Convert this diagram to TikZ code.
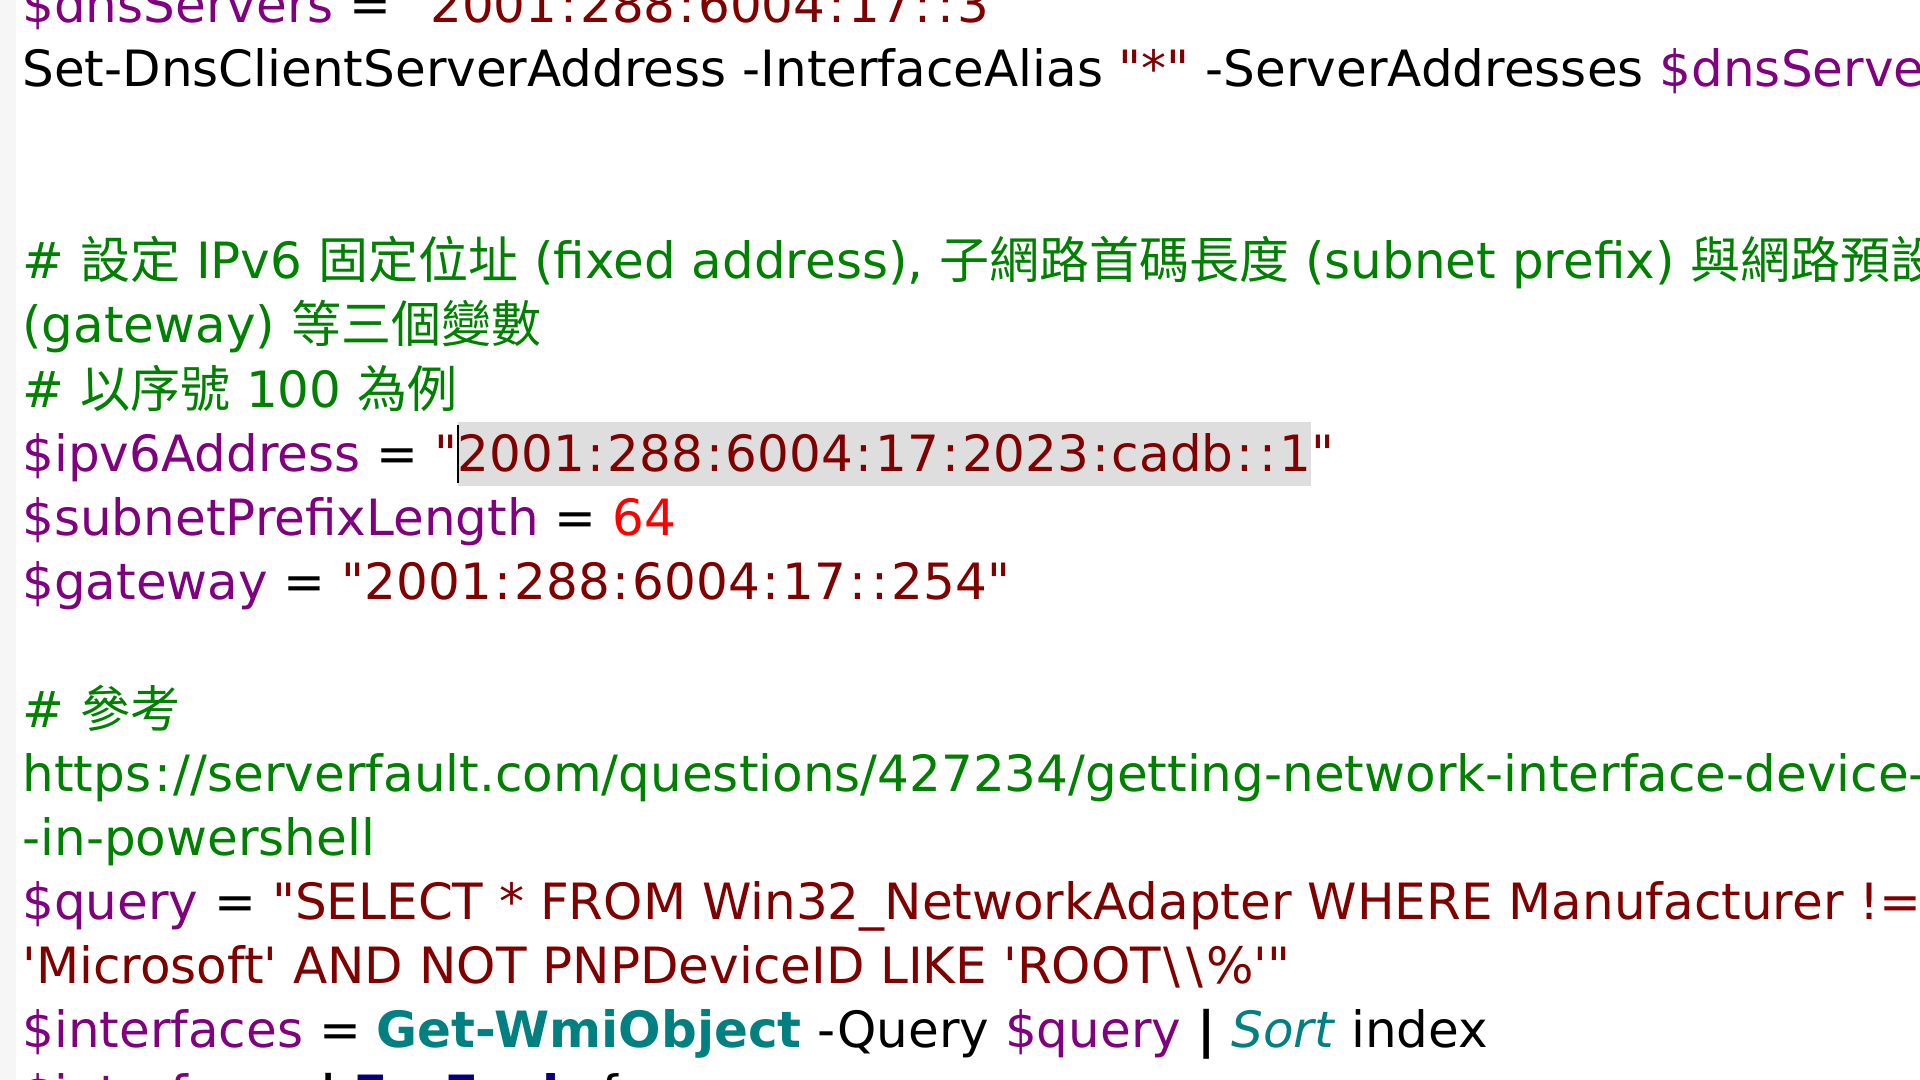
\documentclass[tikz,border=0pt]{standalone}
\usepackage{fontspec}
\setmainfont{DejaVu Sans}[Ligatures=TeXOff]
\newfontfamily\cjk{Noto Sans CJK TC}
\usetikzlibrary{positioning}

\definecolor{varcol}{HTML}{800080}
\definecolor{strcol}{HTML}{800000}
\definecolor{comcol}{HTML}{008000}
\definecolor{numcol}{HTML}{FF0000}
\definecolor{cmdcol}{HTML}{008080}
\definecolor{keycol}{HTML}{000080}
\definecolor{selgray}{RGB}{222,222,222}
\definecolor{guttergray}{RGB}{246,246,246}

\newcommand{\pvar}[1]{\textcolor{varcol}{#1}}
\newcommand{\pstr}[1]{\textcolor{strcol}{#1}}
\newcommand{\pcom}[1]{\textcolor{comcol}{#1}}
\newcommand{\pnum}[1]{\textcolor{numcol}{#1}}
\newcommand{\pcmd}[1]{\textcolor{cmdcol}{\textbf{#1}}}
\newcommand{\palias}[1]{\textcolor{cmdcol}{\textit{#1}}}
\newcommand{\pkey}[1]{\textcolor{keycol}{\textbf{#1}}}
% wide colon and backslash, as in the editor font
\newcommand{\pc}{\makebox[0.454em]{:}}
\newcommand{\pbs}{\makebox[0.454em]{\textbackslash}}

\begin{document}
\begin{tikzpicture}[x=0.5pt, y=-0.5pt,
	code/.style={anchor=base west, inner sep=0pt, font=\fontsize{25pt}{32pt}\selectfont}]

	\useasboundingbox (0,0) rectangle (1920,1080);
	\clip (0,0) rectangle (1920,1080);

% editor gutter
	\fill[guttergray] (0,0) rectangle (16,1080);

% code lines, one every 64px
	\node[code] (l1) at (22,23) {\pvar{\$dnsServers} = \pstr{"2001\pc288\pc6004\pc17\pc\pc3"}};
	\node[code] (l2) at (22,87) {Set-DnsClientServerAddress -InterfaceAlias \pstr{"*"} -ServerAddresses \pvar{\$dnsServers}};

	\node[code] (l5) at (22,279) {\pcom{\# {\cjk 設定} IPv6 {\cjk 固定位址} (fixed address), {\cjk 子網路首碼長度} (subnet prefix) {\cjk 與網路預設閘道}}};
	\node[code] (l6) at (22,343) {\pcom{(gateway) {\cjk 等三個變數}}};
	\node[code] (l7) at (22,407) {\pcom{\# {\cjk 以序號} 100 {\cjk 為例}}};

% selected address with cursor
	\node[code] (ipv6var) at (22,471) {\pvar{\$ipv6Address} = \pstr{"}};
	\node[code, fill=selgray, text height=24.5pt, text depth=7.5pt] (ipv6val)
		at (ipv6var.base east) {\pstr{2001\pc288\pc6004\pc17\pc2023\pc cadb\pc\pc1}};
	\node[code] (ipv6end) at (ipv6val.base east) {\pstr{"}};
	\draw[line width=1pt] ([xshift=0.5pt, yshift=-1.5pt]ipv6val.north west)
		-- ([xshift=0.5pt, yshift=1.5pt]ipv6val.south west);

	\node[code] (l9) at (22,535) {\pvar{\$subnetPrefixLength} = \pnum{64}};
	\node[code] (l10) at (22,599) {\pvar{\$gateway} = \pstr{"2001\pc288\pc6004\pc17\pc\pc254"}};

	\node[code] (l12) at (22,727) {\pcom{\# {\cjk 參考}}};
	\node[code] (l13) at (22,791) {\pcom{https\pc//serverfault.com/questions/427234/getting-network-interface-device-name}};
	\node[code] (l14) at (22,855) {\pcom{-in-powershell}};
	\node[code] (l15) at (22,919) {\pvar{\$query} = \pstr{"SELECT * FROM Win32\_NetworkAdapter WHERE Manufacturer !=}};
	\node[code] (l16) at (22,983) {\pstr{'Microsoft' AND NOT PNPDeviceID LIKE 'ROOT\pbs\pbs\%'"}};
	\node[code] (l17) at (22,1047) {\pvar{\$interfaces} = \pcmd{Get-WmiObject} -Query \pvar{\$query} \textbf{|} \palias{Sort} index};
	\node[code] (l18) at (22,1111) {\pvar{\$interfaces} \textbf{|} \pkey{ForEach} \{};

\end{tikzpicture}
\end{document}
